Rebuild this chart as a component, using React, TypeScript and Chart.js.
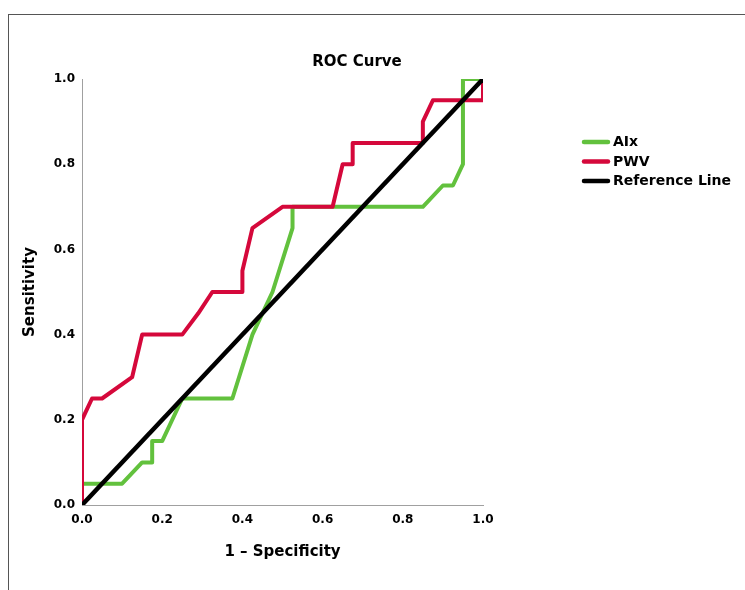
import React, { useEffect, useRef } from "react";
import { Chart, registerables } from "chart.js";

Chart.register(...registerables);

const chartTitle = "ROC Curve";
const xAxisTitle = "1 – Specificity";
const yAxisTitle = "Sensitivity";
const tickValues = [0, 0.2, 0.4, 0.6, 0.8, 1.0];

const seriesNames = ["AIx", "PWV", "Reference Line"];
const seriesColors = ["#62c13d", "#d5083b", "#000000"];

const aixX = [0, 0, 0.1, 0.15, 0.175, 0.175, 0.2, 0.25, 0.375, 0.425, 0.475, 0.525, 0.525, 0.85, 0.9, 0.925, 0.95, 0.95, 1];
const aixY = [0, 0.05, 0.05, 0.1, 0.1, 0.15, 0.15, 0.25, 0.25, 0.4, 0.5, 0.65, 0.7, 0.7, 0.75, 0.75, 0.8, 1, 1];

const pwvX = [0, 0, 0.025, 0.05, 0.125, 0.15, 0.25, 0.29, 0.325, 0.4, 0.4, 0.425, 0.5, 0.625, 0.65, 0.675, 0.675, 0.85, 0.85, 0.875, 1, 1];
const pwvY = [0, 0.2, 0.25, 0.25, 0.3, 0.4, 0.4, 0.45, 0.5, 0.5, 0.55, 0.65, 0.7, 0.7, 0.8, 0.8, 0.85, 0.85, 0.9, 0.95, 0.95, 1];

const refX = [0, 1];
const refY = [0, 1];

const FONT = "'DejaVu Sans', sans-serif";

const toPoints = (xs: number[], ys: number[]) => xs.map((x, i) => ({ x, y: ys[i] }));

const overlayPlugin = {
  id: "overlay",
  afterDraw(chart: any) {
    const ctx = chart.ctx;
    ctx.save();
    // title
    ctx.fillStyle = "#000";
    ctx.font = `bold 15px ${FONT}`;
    ctx.textAlign = "center";
    ctx.textBaseline = "middle";
    ctx.fillText(chartTitle, 348, 47);
    // legend
    ctx.font = `bold 14px ${FONT}`;
    ctx.textAlign = "left";
    const ys = [127, 146.5, 166];
    chart.data.datasets.forEach((ds: any, i: number) => {
      const y = ys[i];
      ctx.strokeStyle = ds.borderColor;
      ctx.lineWidth = 4.5;
      ctx.lineCap = "round";
      ctx.beginPath();
      ctx.moveTo(575, y);
      ctx.lineTo(599, y);
      ctx.stroke();
      ctx.fillStyle = "#000";
      ctx.fillText(ds.label, 604, y + 0.5);
    });
    ctx.restore();
  },
};

export default function App() {
  const canvasRef = useRef<HTMLCanvasElement | null>(null);

  useEffect(() => {
    if (!canvasRef.current) return;
    const datasets = [
      { label: seriesNames[0], data: toPoints(aixX, aixY), borderColor: seriesColors[0], order: 2 },
      { label: seriesNames[1], data: toPoints(pwvX, pwvY), borderColor: seriesColors[1], order: 1 },
      { label: seriesNames[2], data: toPoints(refX, refY), borderColor: seriesColors[2], order: 0, borderWidth: 4.5 },
    ].map((d) => ({
      borderWidth: 4,
      backgroundColor: d.borderColor,
      pointRadius: 0,
      pointHoverRadius: 0,
      tension: 0,
      showLine: true,
      fill: false,
      borderJoinStyle: "round" as const,
      borderCapStyle: "butt" as const,
      ...d,
    }));

    const chart = new Chart(canvasRef.current, {
      type: "scatter",
      data: { datasets },
      options: {
        animation: false,
        responsive: false,
        maintainAspectRatio: false,
        layout: { padding: { left: 0, top: 64, right: 262, bottom: 0 } },
        plugins: {
          legend: { display: false },
          title: { display: false },
          tooltip: { enabled: false },
        },
        scales: {
          x: {
            type: "linear",
            min: 0,
            max: 1,
            afterFit: (s: any) => { s.height = 85; },
            afterBuildTicks: (s: any) => { s.ticks = tickValues.map((v) => ({ value: v })); },
            grid: { display: false, drawTicks: false },
            border: { display: true, color: "#a0a0a0", width: 1 },
            ticks: {
              padding: 8,
              color: "#000",
              font: { family: FONT, weight: "bold", size: 12 },
              callback: (v: any) => Number(v).toFixed(1),
              maxRotation: 0,
            },
            title: {
              display: true,
              text: xAxisTitle,
              color: "#000",
              font: { family: FONT, weight: "bold", size: 15 },
              padding: { top: 0, bottom: 29 },
            },
          },
          y: {
            type: "linear",
            min: 0,
            max: 1,
            afterFit: (s: any) => { s.width = 73; },
            afterBuildTicks: (s: any) => { s.ticks = tickValues.map((v) => ({ value: v })); },
            grid: { display: false, drawTicks: false },
            border: { display: true, color: "#a0a0a0", width: 1 },
            ticks: {
              padding: 7,
              color: "#000",
              font: { family: FONT, weight: "bold", size: 12 },
              callback: (v: any) => Number(v).toFixed(1),
            },
            title: {
              display: true,
              text: yAxisTitle,
              color: "#000",
              font: { family: FONT, weight: "bold", size: 15 },
              padding: { top: 12, bottom: 0 },
            },
          },
        },
      },
      plugins: [overlayPlugin],
    });
    return () => chart.destroy();
  }, []);

  return (
    <div
      style={{
        position: "absolute",
        left: 8,
        top: 14,
        width: 736,
        height: 576,
        borderTop: "1px solid #555",
        borderLeft: "1px solid #555",
        background: "#fff",
        overflow: "hidden",
      }}
    >
      <canvas ref={canvasRef} width={736} height={575} style={{ display: "block", width: 736, height: 575 }} />
    </div>
  );
}
